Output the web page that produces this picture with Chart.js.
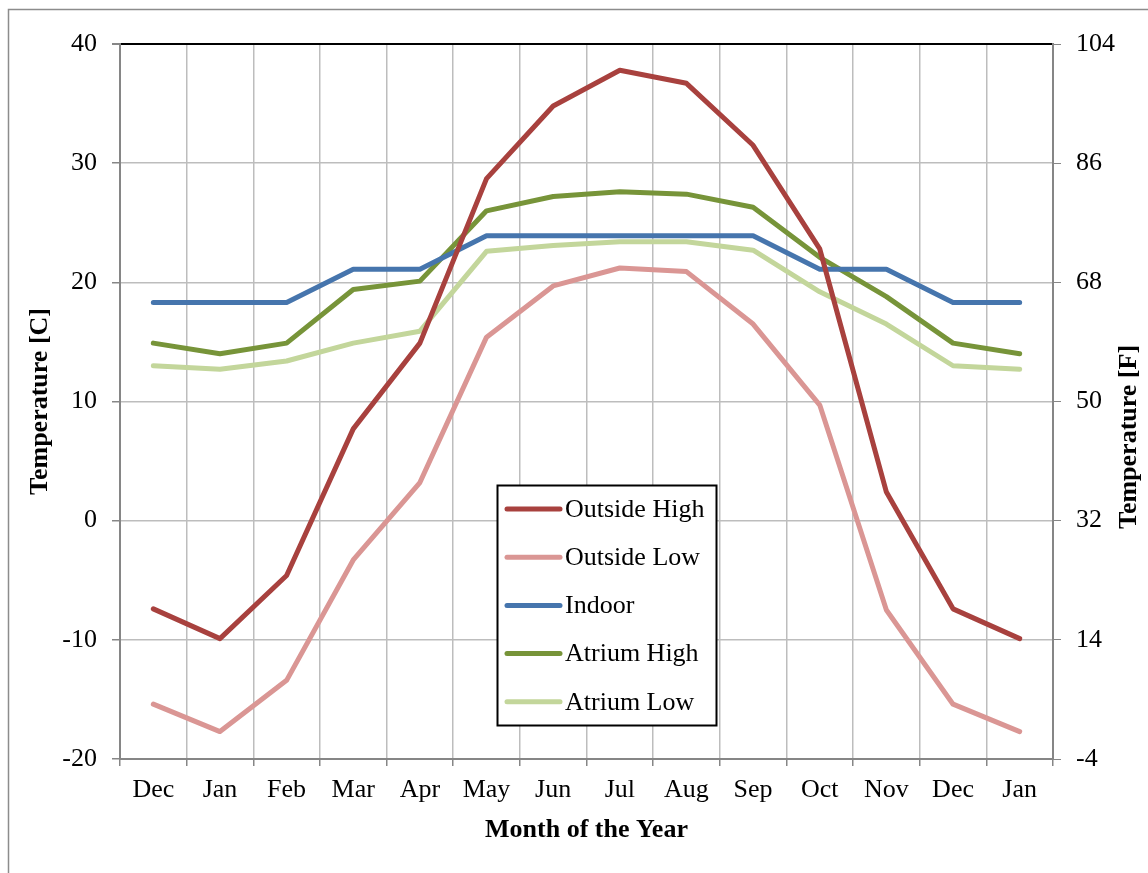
<!DOCTYPE html>
<html>
<head>
<meta charset="utf-8">
<script src="https://cdn.jsdelivr.net/npm/chart.js@4.4.1/dist/chart.umd.min.js"></script>
<style>
  html, body { margin: 0; padding: 0; background: #ffffff; }
  #wrap { width: 1148px; height: 873px; position: relative; }
</style>
</head>
<body>
<div id="wrap"><canvas id="c" width="1148" height="873"></canvas></div>
<script>
// ---- Data ----
const months = ['Dec','Jan','Feb','Mar','Apr','May','Jun','Jul','Aug','Sep','Oct','Nov','Dec','Jan'];
const outsideHigh = [-7.4, -9.9, -4.6, 7.7, 14.9, 28.7, 34.8, 37.8, 36.7, 31.5, 22.8, 2.4, -7.4, -9.9];
const outsideLow  = [-15.4, -17.7, -13.4, -3.3, 3.2, 15.4, 19.7, 21.2, 20.9, 16.5, 9.7, -7.5, -15.4, -17.7];
const indoor      = [18.3, 18.3, 18.3, 21.1, 21.1, 23.9, 23.9, 23.9, 23.9, 23.9, 21.1, 21.1, 18.3, 18.3];
const atriumHigh  = [14.9, 14.0, 14.9, 19.4, 20.1, 26.0, 27.2, 27.6, 27.4, 26.3, 22.1, 18.8, 14.9, 14.0];
const atriumLow   = [13.0, 12.7, 13.4, 14.9, 15.9, 22.6, 23.1, 23.4, 23.4, 22.7, 19.2, 16.5, 13.0, 12.7];
const seriesNames = ['Outside High','Outside Low','Indoor','Atrium High','Atrium Low'];
const seriesColors = ['#A8413E','#DA9694','#4675AD','#779439','#C3D69B'];
const cTicks = {min: -20, max: 40, step: 10};
const fTicks = {min: -4, max: 104, step: 18};
const xTitle = 'Month of the Year';
const yLeftTitle = 'Temperature [C]';
const yRightTitle = 'Temperature [F]';

const FONT = '"Liberation Serif", "Times New Roman", Times, serif';
const seriesData = [outsideHigh, outsideLow, indoor, atriumHigh, atriumLow];

const datasets = seriesData.map((d, i) => ({
  label: seriesNames[i],
  data: d,
  borderColor: seriesColors[i],
  backgroundColor: seriesColors[i],
  borderWidth: 5,
  pointRadius: 0,
  pointHoverRadius: 0,
  tension: 0,
  fill: false,
  borderCapStyle: 'round',
  borderJoinStyle: 'round',
  yAxisID: 'y'
}));

const decor = {
  id: 'decor',
  beforeDraw(chart) {
    const ctx = chart.ctx;
    ctx.save();
    ctx.fillStyle = '#ffffff';
    ctx.fillRect(0, 0, chart.width, chart.height);
    ctx.strokeStyle = '#8c8c8c';
    ctx.lineWidth = 1.5;
    ctx.beginPath();
    ctx.moveTo(8.5, chart.height + 5);
    ctx.lineTo(8.5, 9.5);
    ctx.lineTo(chart.width + 5, 9.5);
    ctx.stroke();
    ctx.restore();
  },
  afterDraw(chart) {
    const ctx = chart.ctx;
    ctx.save();
    // right axis title, reading bottom to top
    ctx.translate(1129, 437);
    ctx.rotate(-Math.PI / 2);
    ctx.font = 'bold 26px ' + FONT;
    ctx.fillStyle = '#000';
    ctx.textAlign = 'center';
    ctx.textBaseline = 'middle';
    ctx.fillText(yRightTitle, 0, 0);
    ctx.restore();

    // legend inside plot
    ctx.save();
    const bx = 497.5, by = 485.5, bw = 219, bh = 240;
    ctx.fillStyle = '#fff';
    ctx.fillRect(bx, by, bw, bh);
    ctx.strokeStyle = '#000';
    ctx.lineWidth = 2;
    ctx.strokeRect(bx, by, bw, bh);
    ctx.font = '26px ' + FONT;
    ctx.textBaseline = 'middle';
    ctx.textAlign = 'left';
    chart.data.datasets.forEach((ds, i) => {
      const y = 509 + i * 48.2;
      ctx.strokeStyle = ds.borderColor;
      ctx.lineWidth = 5;
      ctx.lineCap = 'round';
      ctx.beginPath();
      ctx.moveTo(507, y);
      ctx.lineTo(560, y);
      ctx.stroke();
      ctx.fillStyle = '#000';
      ctx.fillText(ds.label, 565, y + 1);
    });
    ctx.restore();
  }
};

new Chart(document.getElementById('c'), {
  type: 'line',
  data: { labels: months, datasets },
  plugins: [decor],
  options: {
    responsive: false,
    animation: false,
    devicePixelRatio: 1,
    layout: { padding: { top: 44, left: 0, right: 0, bottom: 0 } },
    plugins: { legend: { display: false }, tooltip: { enabled: false }, title: { display: false } },
    scales: {
      x: {
        type: 'category',
        offset: true,
        grid: { offset: true, color: '#BDBDBD', lineWidth: 1.5, tickColor: '#868686', tickLength: 7, drawTicks: true },
        border: { color: '#868686', width: 2 },
        ticks: { font: { family: FONT, size: 26 }, color: '#000', padding: 9, maxRotation: 0, autoSkip: false },
        title: { display: true, text: xTitle, color: '#000', font: { family: FONT, size: 26, weight: 'bold', lineHeight: 1.2 }, padding: { top: 0, bottom: 27 } },
        afterFit(s) { s.height = 114; }
      },
      y: {
        position: 'left',
        min: cTicks.min, max: cTicks.max,
        ticks: { stepSize: cTicks.step, font: { family: FONT, size: 26 }, color: '#000', padding: 15 },
        grid: {
          color: (c) => (c.tick && c.tick.value === cTicks.max) ? '#000000' : '#BDBDBD',
          lineWidth: (c) => (c.tick && c.tick.value === cTicks.max) ? 2 : 1.5,
          tickColor: '#868686', tickLength: 8
        },
        border: { color: '#868686', width: 2 },
        title: { display: true, text: yLeftTitle, color: '#000', font: { family: FONT, size: 26, weight: 'bold', lineHeight: 1.2 }, padding: { top: 24.5, bottom: 0 } },
        afterFit(s) { s.width = 120; }
      },
      y2: {
        position: 'right',
        min: fTicks.min, max: fTicks.max,
        ticks: { stepSize: fTicks.step, font: { family: FONT, size: 26 }, color: '#000', padding: 15 },
        grid: { drawOnChartArea: false, tickColor: '#868686', tickLength: 8 },
        border: { color: '#868686', width: 2 },
        afterFit(s) { s.width = 95; }
      }
    }
  }
});
</script>
</body>
</html>
